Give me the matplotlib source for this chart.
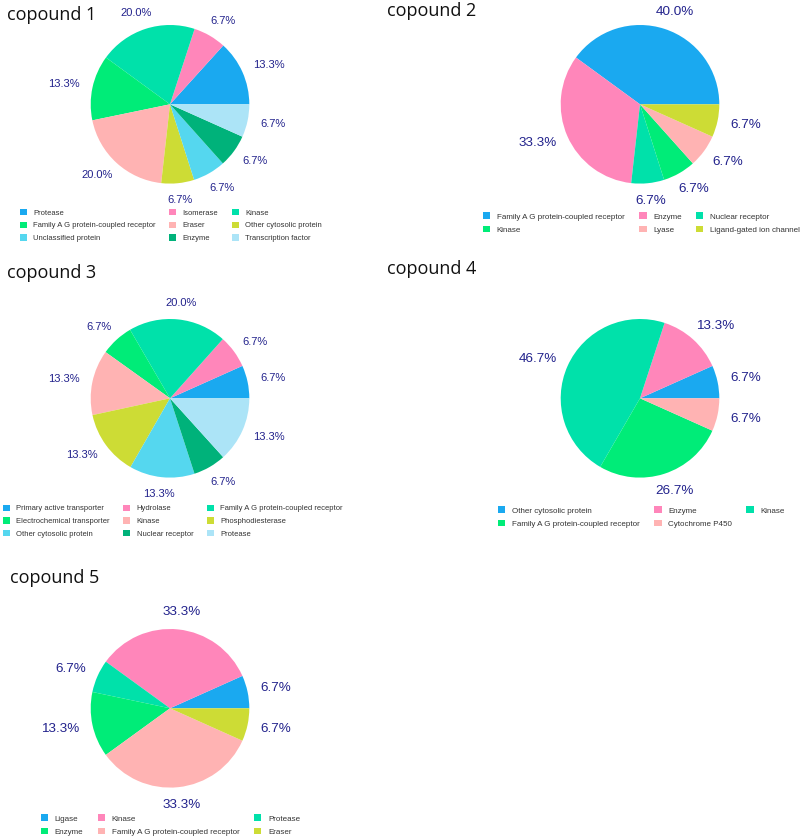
import numpy as np
import matplotlib.pyplot as plt
from matplotlib.patches import Patch

W, H = 800, 838

# data (percent of targets per class)
c1_labels = ['Protease', 'Isomerase', 'Kinase', 'Family A G protein-coupled receptor', 'Eraser',
             'Other cytosolic protein', 'Unclassified protein', 'Enzyme', 'Transcription factor']
c1_values = [13.3, 6.7, 20.0, 13.3, 20.0, 6.7, 6.7, 6.7, 6.7]

c2_labels = ['Family A G protein-coupled receptor', 'Enzyme', 'Nuclear receptor', 'Kinase', 'Lyase',
             'Ligand-gated ion channel']
c2_values = [40.0, 33.3, 6.7, 6.7, 6.7, 6.7]

c3_labels = ['Primary active transporter', 'Hydrolase', 'Family A G protein-coupled receptor',
             'Electrochemical transporter', 'Kinase', 'Phosphodiesterase', 'Other cytosolic protein',
             'Nuclear receptor', 'Protease']
c3_values = [6.7, 6.7, 20.0, 6.7, 13.3, 13.3, 13.3, 6.7, 13.3]

c4_labels = ['Other cytosolic protein', 'Enzyme', 'Kinase', 'Family A G protein-coupled receptor',
             'Cytochrome P450']
c4_values = [6.7, 13.3, 46.7, 26.7, 6.7]

c5_labels = ['Ligase', 'Kinase', 'Protease', 'Enzyme', 'Family A G protein-coupled receptor', 'Eraser']
c5_values = [6.7, 33.3, 6.7, 13.3, 33.3, 6.7]

palette = ['#1aa9f0', '#ff86ba', '#00e1aa', '#00ec78', '#ffb3b3',
           '#cddc35', '#55d7ef', '#00b27a', '#ace4f7']
lab_color = '#22228c'

fig = plt.figure(figsize=(W / 100, H / 100), dpi=100)


def text_w(s, size_px):
    widths = {'.': .278, '%': .889}
    return sum(widths.get(ch, .556) for ch in s) * size_px


def draw_pie(title, labels, values, cx, cy, tx, ty, fs, lfs, lx, ly):
    R = 79.3
    S = 2.2 * R
    ax = fig.add_axes([(cx - S) / W, 1 - (cy + S) / H, 2 * S / W, 2 * S / H])
    wedges, _ = ax.pie(values, colors=palette[:len(values)], startangle=0, counterclock=True,
                       radius=1, wedgeprops=dict(linewidth=0))
    ax.set_xlim(-S / R, S / R)
    ax.set_ylim(-S / R, S / R)
    ax.axis('off')

    size_px = fs * 100 / 72
    r = 1.16
    for w, v in zip(wedges, values):
        th = np.deg2rad((w.theta1 + w.theta2) / 2)
        txt = '%.1f%%' % v
        hw = text_w(txt, size_px) / 2 + 1
        hh = 0.38 * size_px
        ax.annotate(txt, xy=(r * np.cos(th), r * np.sin(th)),
                    xytext=(hw * np.cos(th), hh * np.sin(th)), textcoords='offset pixels',
                    ha='center', va='center', fontsize=fs, color=lab_color,
                    family='Liberation Sans')

    # legend filled row by row, 3 columns
    n = len(labels)
    nrows = int(np.ceil(n / 3))
    handles = [Patch(facecolor=palette[i], edgecolor='none', label=labels[i]) for i in range(n)]
    order = [r_ * 3 + c for c in range(3) for r_ in range(nrows) if r_ * 3 + c < n]
    leg = ax.legend(handles=[handles[i] for i in order], loc='upper left',
                    bbox_to_anchor=(lx / W, 1 - ly / H), bbox_transform=fig.transFigure,
                    ncol=3, frameon=False, borderpad=0, borderaxespad=0,
                    handlelength=0.92, handleheight=0.92, handletextpad=0.8,
                    columnspacing=1.8, labelspacing=0.62,
                    prop={'family': 'Liberation Sans', 'size': lfs})
    for t in leg.get_texts():
        t.set_color('#333333')

    fig.text(tx / W, 1 - ty / H, title, fontsize=13, family='Open Sans',
             color='#111111', ha='left', va='baseline')


draw_pie('copound 1', c1_labels, c1_values, 170, 104.3, 7, 20, 8, 5.5, 20, 209)
draw_pie('copound 2', c2_labels, c2_values, 640, 104.3, 387, 16, 9.7, 5.8, 483, 212.5)
draw_pie('copound 3', c3_labels, c3_values, 170, 398.3, 7, 277.7, 8, 5.5, 3, 504.5)
draw_pie('copound 4', c4_labels, c4_values, 640, 398.3, 387, 274, 9.7, 5.8, 498, 506.5)
draw_pie('copound 5', c5_labels, c5_values, 170, 708.3, 10, 583, 9.7, 5.8, 41, 814.5)

fig.savefig('out.png', dpi=100)
